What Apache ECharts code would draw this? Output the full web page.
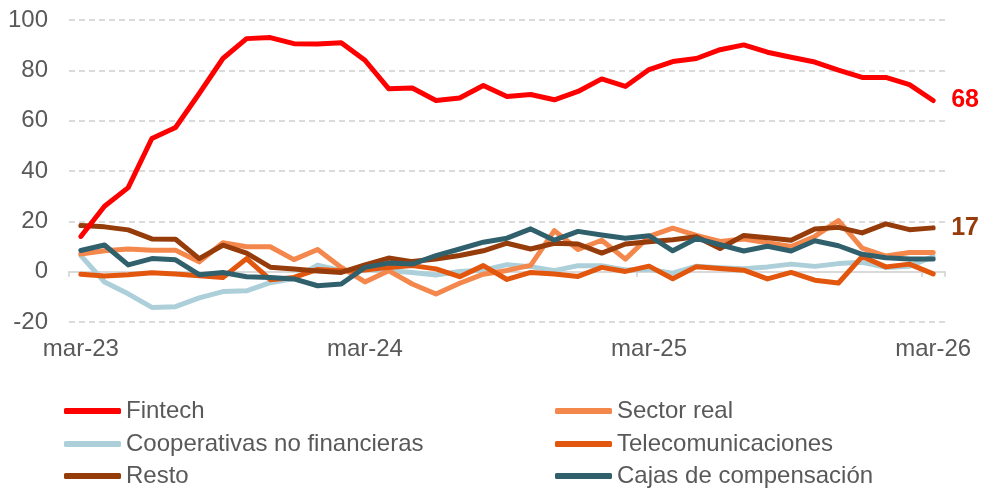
<!DOCTYPE html>
<html>
<head>
<meta charset="utf-8">
<script src="https://cdn.jsdelivr.net/npm/echarts@6/dist/echarts.min.js"></script>
<style>
  html, body { margin: 0; padding: 0; background: #fff; }
  #chart { width: 981px; height: 488px; }
</style>
</head>
<body>
<div id="chart"></div>
<script>
const months = ['mar-23', 'abr-23', 'may-23', 'jun-23', 'jul-23', 'ago-23', 'sep-23', 'oct-23', 'nov-23', 'dic-23', 'ene-24', 'feb-24',
  'mar-24', 'abr-24', 'may-24', 'jun-24', 'jul-24', 'ago-24', 'sep-24', 'oct-24', 'nov-24', 'dic-24', 'ene-25', 'feb-25',
  'mar-25', 'abr-25', 'may-25', 'jun-25', 'jul-25', 'ago-25', 'sep-25', 'oct-25', 'nov-25', 'dic-25', 'ene-26', 'feb-26',
  'mar-26'];

const fintech = [14, 26, 33.4, 52.9, 57.3, 70.8, 84.7, 92.6, 93, 90.6, 90.5, 91, 84, 72.7, 73, 68, 69, 74, 69.6, 70.4, 68.3, 71.6, 76.6, 73.6,
  80.3, 83.5, 84.7, 88.2, 90.1, 87.2, 85.2, 83.3, 80.1, 77.2, 77.2, 74.3, 68];
const sectorReal = [7, 8.3, 9, 8.5, 8.5, 3.9, 11.5, 9.9, 9.9, 4.8, 8.8, 1.7, -4.1, 0.4, -4.9, -8.9, -4.6, -1, 0.5, 2.5, 16.3, 8.8, 12.5, 5,
  14, 17.3, 14.4, 12, 13, 11.5, 10, 14, 20.3, 9.4, 6.2, 7.6, 7.6];
const cooperativas = [6.4, -4.1, -8.8, -14.2, -13.9, -10.4, -7.9, -7.6, -4.4, -2.7, 2.6, 0.4, 1, 0.4, -0.3, -1.3, 0.1, 0.6, 2.8, 2, 0.4, 2.4, 2.4, 0.7,
  0.9, -0.6, 2.2, 1.6, 1.2, 1.9, 3, 2.1, 3.2, 3.7, 1.7, 2.2, 6];
const telecom = [-1, -1.7, -1.2, -0.4, -0.9, -1.6, -2.3, 5.2, -3.2, -2.3, 0.9, 0.4, 0.7, 1.7, 2.4, 1.1, -2, 2.4, -3.1, -0.3, -0.9, -1.9, 1.7, 0.1,
  2.2, -2.8, 2, 1.3, 0.6, -2.9, -0.3, -3.4, -4.5, 6, 1.9, 3, -0.9];
const resto = [18.3, 17.8, 16.6, 13, 12.9, 5.2, 10.5, 7.4, 1.8, 1.1, 0.3, -0.3, 2.7, 5.4, 4, 5, 6.4, 8.3, 11.3, 9, 11.3, 11, 7.4, 11,
  11.9, 12.7, 13.9, 9.2, 14.4, 13.5, 12.5, 17, 17.6, 15.4, 19, 16.7, 17.4];
const cajas = [8.4, 10.6, 2.7, 5.2, 4.7, -1.2, -0.3, -2, -2.3, -2.9, -5.6, -4.9, 1.7, 3.4, 3, 6.4, 9, 11.7, 13.3, 17, 12.5, 16, 14.6, 13.3,
  14.3, 8.3, 13.2, 10.7, 8.2, 10.1, 8.2, 12.3, 10.3, 6.9, 5.5, 5, 5];

const yTicks = [-20, 0, 20, 40, 60, 80, 100];

// legend reading order: left column then right column
const legendLeft = ['Fintech', 'Cooperativas no financieras', 'Resto'];
const legendRight = ['Sector real', 'Telecomunicaciones', 'Cajas de compensación'];

const font = "'Liberation Sans', Arial, sans-serif";
const textGray = '#595959';

const chart = echarts.init(document.getElementById('chart'));

// draw order: bottom lines first, fintech last so it sits on top
const lineSeries = [
  { name: 'Cooperativas no financieras', data: cooperativas, color: '#ADCFD9' },
  { name: 'Sector real', data: sectorReal, color: '#F4874B' },
  { name: 'Telecomunicaciones', data: telecom, color: '#E2560E' },
  { name: 'Resto', data: resto, color: '#963B0A', label: true },
  { name: 'Cajas de compensación', data: cajas, color: '#31606D' },
  { name: 'Fintech', data: fintech, color: '#FF0000', label: true }
];

// one legend per entry so the 2x3 block never wraps
const rowTops = [399, 432, 464];
const makeLegend = (name, left, top) => ({
  data: [name],
  left: left,
  top: top,
  padding: 0,
  itemWidth: 57,
  itemHeight: 6,
  icon: 'roundRect',
  textStyle: { fontFamily: font, fontSize: 24, color: textGray, lineHeight: 24 }
});
const legends = legendLeft.map((n, i) => makeLegend(n, 64, rowTops[i]))
  .concat(legendRight.map((n, i) => makeLegend(n, 555, rowTops[i])));

const option = {
  animation: false,
  textStyle: { fontFamily: font },
  grid: { left: 69, right: 36, top: 20, bottom: 166 },
  legend: legends,
  xAxis: {
    type: 'category',
    data: months,
    boundaryGap: true,
    axisLine: { onZero: true, lineStyle: { color: '#D9D9D9', width: 2 } },
    axisTick: { show: true, interval: 11, length: 5, lineStyle: { color: '#D9D9D9', width: 2 } },
    axisLabel: { interval: 11, margin: 15, fontSize: 24, color: textGray, fontFamily: font },
    splitLine: { show: false }
  },
  yAxis: {
    type: 'value',
    min: yTicks[0],
    max: yTicks[yTicks.length - 1],
    interval: 20,
    axisLine: { show: false },
    axisTick: { show: false },
    axisLabel: { fontSize: 24, color: textGray, margin: 21, fontFamily: font },
    splitLine: { lineStyle: { color: '#D0D0D0', type: [6, 4], width: 1.5 } }
  },
  series: lineSeries.map(s => ({
    name: s.name,
    type: 'line',
    data: s.data,
    symbol: 'none',
    color: s.color,
    lineStyle: { width: 5, color: s.color, cap: 'round', join: 'round' },
    endLabel: s.label ? {
      show: true,
      formatter: p => Math.round(p.value),
      distance: 18,
      fontSize: 25,
      fontWeight: 'bold',
      color: s.color,
      fontFamily: font
    } : { show: false }
  }))
};

chart.setOption(option);
</script>
</body>
</html>
